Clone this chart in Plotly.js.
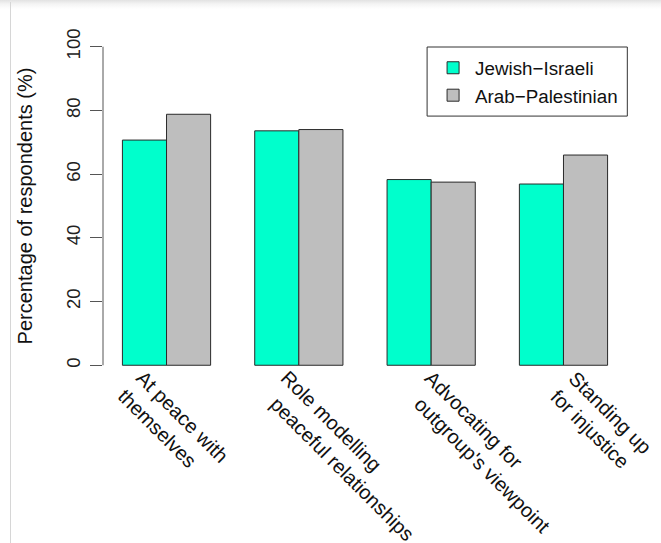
<!DOCTYPE html>
<html>
<head>
<meta charset="utf-8">
<script src="https://cdn.plot.ly/plotly-3.0.1.min.js"></script>
<style>
  html, body { margin: 0; padding: 0; background: #fff; }
  #frame {
    position: relative; width: 661px; height: 543px; overflow: hidden;
    background: linear-gradient(to bottom, #e2e2e2 0px, #f4f4f4 4px, #ffffff 9px);
  }
  #frame:before {
    content: ""; position: absolute; left: 10px; top: 2px; bottom: 0;
    width: 1px; background: #d6d6d6;
  }
  #chart { position: absolute; left: 0; top: 0; width: 661px; height: 543px; }
</style>
</head>
<body>
<div id="frame"><div id="chart"></div></div>
<script>
// Behaviour categories, each label split over two lines
const categoryLines = [
  ["At peace with", "themselves"],
  ["Role modelling", "\u00a0\u00a0peaceful relationships"],
  ["Advocating for", "\u00a0\u00a0outgroup's viewpoint"],
  ["Standing up", "for injustice"]
];
const categories = categoryLines.map(l => l.join(" ").replace(/\u00a0/g, "").trim());

// Share of respondents (%) per group
const jewishIsraeli = [70.7, 73.6, 58.3, 56.9];
const arabPalestinian = [78.8, 74.0, 57.5, 66.0];

const seriesNames = ["Jewish\u2212Israeli", "Arab\u2212Palestinian"];
const seriesColors = ["#00FFCC", "#BEBEBE"];

const yTicks = [0, 20, 40, 60, 80, 100];

const FONT = "Liberation Sans, Arial, Helvetica, sans-serif";
const outline = { color: "#2a2a2a", width: 1 };

const traces = [jewishIsraeli, arabPalestinian].map((vals, k) => ({
  type: "bar",
  name: seriesNames[k],
  x: categories,
  y: vals,
  marker: { color: seriesColors[k], line: outline },
  hoverinfo: "skip"
}));

// Rotated two-line category labels under the bars
const LABEL_SIZE = 20;
const labelBoxH = 2 * 1.3 * LABEL_SIZE + 4;
const labelAnnotations = categoryLines.map((lines, i) => ({
  text: lines.join("<br>"),
  x: -0.12 + 1.09 * i,
  xref: "x",
  y: 0,
  yref: "paper",
  xanchor: "left",
  yanchor: "top",
  xshift: -0.7071 * labelBoxH,
  yshift: 14,
  textangle: 45,
  align: "left",
  showarrow: false,
  font: { family: FONT, size: LABEL_SIZE, color: "#111" }
}));

const layout = {
  width: 661,
  height: 543,
  margin: { l: 103.3, r: 34.3, t: 34, b: 165.3, pad: 0 },
  paper_bgcolor: "rgba(0,0,0,0)",
  plot_bgcolor: "rgba(0,0,0,0)",
  font: { family: FONT, color: "#111" },
  barmode: "group",
  bargap: 1 / 3,
  bargroupgap: 0,
  showlegend: true,
  legend: {
    x: 0.6261, y: 0.9563, xanchor: "left", yanchor: "top",
    bgcolor: "rgba(0,0,0,0)", borderwidth: 0,
    itemwidth: 34,
    font: { family: FONT, size: 18.8, color: "#111" },
    traceorder: "normal"
  },
  xaxis: {
    type: "category",
    range: [-0.48, 3.48],
    showticklabels: false,
    ticks: "",
    showline: false,
    showgrid: false,
    zeroline: false,
    fixedrange: true
  },
  yaxis: {
    range: [-4, 104],
    tickvals: yTicks,
    ticktext: yTicks.map(String),
    ticks: "outside",
    ticklen: 11.6,
    tickwidth: 1,
    tickcolor: "#555",
    tickangle: -90,
    ticklabelstandoff: 3,
    tickfont: { family: FONT, size: 18.5, color: "#222" },
    showline: false,
    showgrid: false,
    zeroline: false,
    fixedrange: true,
    title: {
      text: "Percentage of respondents (%)",
      font: { family: FONT, size: 20, color: "#111" },
      standoff: 25
    }
  },
  shapes: [
    // axis line spanning only the tick range
    {
      type: "line", xref: "paper", yref: "y",
      x0: 0, x1: 0, y0: 0, y1: 100,
      line: { color: "#555", width: 1 }
    },
    // legend frame
    {
      type: "rect", xref: "paper", yref: "paper",
      x0: 0.6185, x1: 1.0006, y0: 0.7614, y1: 0.9622,
      line: { color: "#333", width: 1 }, fillcolor: "rgba(255,255,255,0)"
    }
  ],
  annotations: labelAnnotations
};

Plotly.newPlot("chart", traces, layout, { staticPlot: true, displayModeBar: false });
</script>
</body>
</html>
